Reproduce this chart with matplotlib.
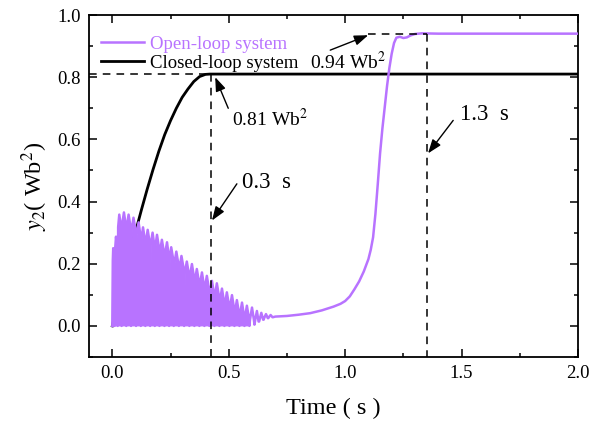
import matplotlib
matplotlib.use("Agg")
import matplotlib.pyplot as plt
from matplotlib.ticker import MultipleLocator

plt.rcParams['font.family'] = ['Liberation Serif', 'DejaVu Serif']
plt.rcParams['mathtext.fontset'] = 'stix'

PURPLE = '#B873FF'

# ---- Data ----
# Open-loop system: oscillation peaks (time, value) and the troughs between them
osc_peak_t = [0.004, 0.016, 0.030, 0.050, 0.070, 0.091, 0.113, 0.132, 0.152, 0.173,
              0.192, 0.213, 0.235, 0.253, 0.275, 0.297, 0.320, 0.342, 0.363, 0.385,
              0.406, 0.428, 0.449, 0.471, 0.492, 0.514, 0.535, 0.557, 0.578, 0.600,
              0.621, 0.640, 0.660, 0.680]
osc_peak_v = [0.250, 0.287, 0.358, 0.365, 0.358, 0.348, 0.333, 0.317, 0.309, 0.300,
              0.293, 0.277, 0.269, 0.253, 0.239, 0.225, 0.207, 0.199, 0.183, 0.172,
              0.161, 0.145, 0.137, 0.120, 0.108, 0.099, 0.083, 0.075, 0.065, 0.059,
              0.048, 0.042, 0.038, 0.035]
osc_trough_v = [0.0, 0.0, 0.0, 0.0, 0.0, 0.0, 0.0, 0.0, 0.0, 0.0,
                0.0, 0.0, 0.0, 0.0, 0.0, 0.0, 0.0, 0.0, 0.0, 0.0,
                0.0, 0.0, 0.0, 0.0, 0.0, 0.0, 0.0, 0.0, 0.0, 0.004,
                0.014, 0.020, 0.025, 0.028]
open_tail_t = [0.70, 0.75, 0.80, 0.85, 0.90, 0.95, 0.98, 1.00, 1.02, 1.04, 1.06, 1.08,
               1.10, 1.11, 1.12, 1.13, 1.14, 1.15, 1.16, 1.17, 1.18, 1.19, 1.20, 1.21,
               1.22, 1.235, 1.25, 1.265, 1.28, 1.30, 1.33, 1.40, 2.00]
open_tail_v = [0.030, 0.032, 0.036, 0.041, 0.050, 0.062, 0.071, 0.080, 0.095, 0.118,
               0.143, 0.175, 0.215, 0.245, 0.285, 0.360, 0.455, 0.555, 0.635, 0.705,
               0.772, 0.830, 0.876, 0.910, 0.927, 0.930, 0.926, 0.928, 0.934, 0.939,
               0.941, 0.940, 0.940]

# Closed-loop system
closed_t = [0.0, 0.025, 0.05, 0.075, 0.10, 0.125, 0.15, 0.175, 0.20, 0.225, 0.25,
            0.275, 0.30, 0.325, 0.35, 0.375, 0.40, 0.42, 2.00]
closed_v = [0.0, 0.077, 0.154, 0.230, 0.303, 0.373, 0.440, 0.503, 0.562, 0.615, 0.660,
            0.700, 0.735, 0.762, 0.786, 0.802, 0.809, 0.810, 0.810]

# Guide-line values
t_closed_settle = 0.424
t_open_settle = 1.351
v_closed = 0.81
v_open = 0.94
t_open_reach = 1.10

x_ticks = [0.0, 0.5, 1.0, 1.5, 2.0]
y_ticks = [0.0, 0.2, 0.4, 0.6, 0.8, 1.0]

# ---- Build open-loop series: teeth with sharp troughs, rounded tops ----
TOP_DEPTH = 0.04     # depth of the visible notch at the top of each tooth
EDGE = 0.0022        # half width of a trough (s)
troughs_t = [0.0]
for i in range(len(osc_peak_t) - 1):
    troughs_t.append((osc_peak_t[i] + osc_peak_t[i + 1]) / 2)
troughs_t.append(osc_peak_t[-1] + 0.01)
troughs_v = [0.0] + osc_trough_v

osc_t, osc_v = [0.0], [0.0]
fill_end = 1
for i, (pt, pv) in enumerate(zip(osc_peak_t, osc_peak_v)):
    t_a, v_a = troughs_t[i], troughs_v[i]
    t_b, v_b = troughs_t[i + 1], troughs_v[i + 1]
    sh = max(pv - TOP_DEPTH, v_a, v_b)
    osc_t += [t_a + EDGE, pt, t_b - EDGE, t_b]
    osc_v += [max(sh, v_a), pv, max(sh, v_b), v_b]
    if v_b == 0.0:
        fill_end = len(osc_t)
open_t = osc_t + open_tail_t
open_v = osc_v + open_tail_v

# ---- Figure ----
fig = plt.figure(figsize=(5.91, 4.25), dpi=100)
ax = fig.add_axes([0.1506, 0.16, 0.978 - 0.1506, 0.9647 - 0.16])

ax.plot(closed_t, closed_v, color='black', lw=2.0, label='Closed-loop system', zorder=2)
ax.fill_between(osc_t[:fill_end], 0, osc_v[:fill_end], color=PURPLE, lw=0, zorder=3)
ax.plot(open_t, open_v, color=PURPLE, lw=1.8, label='Open-loop system', zorder=3,
        solid_joinstyle='round')

dash = dict(color='black', lw=1.1, ls=(0, (5, 4)), zorder=4)
ax.plot([-0.1, t_closed_settle], [v_closed, v_closed], **dash)
ax.plot([t_closed_settle, t_closed_settle], [v_closed, -0.1], **dash)
ax.plot([t_open_reach, t_open_settle], [v_open, v_open], **dash)
ax.plot([t_open_settle, t_open_settle], [v_open, -0.1], **dash)

ap = dict(arrowstyle='-|>,head_length=0.6,head_width=0.22', color='black', lw=1.0,
          mutation_scale=14, shrinkA=0, shrinkB=0)
ax.annotate('', xy=(1.099, 0.935), xytext=(0.936, 0.887), arrowprops=ap)
ax.text(0.85, 0.848, '0.94 Wb$^2$', fontsize=14, va='center', ha='left')
ax.annotate('', xy=(0.442, 0.800), xytext=(0.498, 0.700), arrowprops=ap)
ax.text(0.515, 0.665, '0.81 Wb$^2$', fontsize=14, va='center', ha='left')
ax.annotate('', xy=(0.428, 0.339), xytext=(0.535, 0.457), arrowprops=ap)
ax.text(0.557, 0.462, '0.3  s', fontsize=16.5, va='center', ha='left')
ax.annotate('', xy=(1.356, 0.555), xytext=(1.464, 0.661), arrowprops=ap)
ax.text(1.494, 0.680, '1.3  s', fontsize=16.5, va='center', ha='left')

ax.set_xlim(-0.1, 2.0)
ax.set_ylim(-0.1, 1.0)
ax.set_xticks(x_ticks)
ax.set_yticks(y_ticks)
ax.set_xticklabels([f'{v:.1f}' for v in x_ticks])
ax.set_yticklabels([f'{v:.1f}' for v in y_ticks])
ax.xaxis.set_minor_locator(MultipleLocator(0.25))
ax.yaxis.set_minor_locator(MultipleLocator(0.1))
ax.tick_params(which='both', direction='in', top=True, right=True, labelsize=13.5,
               width=1.1, pad=6)
ax.tick_params(which='major', length=5.5)
ax.tick_params(which='minor', length=3)
for s in ax.spines.values():
    s.set_linewidth(1.3)

ax.set_xlabel('Time ( s )', fontsize=17.5, labelpad=11)
ax.set_ylabel('$y_2$( Wb$^2$)', fontsize=17.5, labelpad=5)

handles, labels = ax.get_legend_handles_labels()
order = [1, 0]
leg = ax.legend([handles[i] for i in order], [labels[i] for i in order],
                loc='upper left', bbox_to_anchor=(0.025, 0.94), frameon=False,
                fontsize=13.5, borderpad=0, borderaxespad=0, handlelength=2.3,
                handletextpad=0.3, labelspacing=0.1)
leg.get_texts()[0].set_color(PURPLE)
leg.get_texts()[1].set_color('black')

fig.savefig('out.png', dpi=100)
